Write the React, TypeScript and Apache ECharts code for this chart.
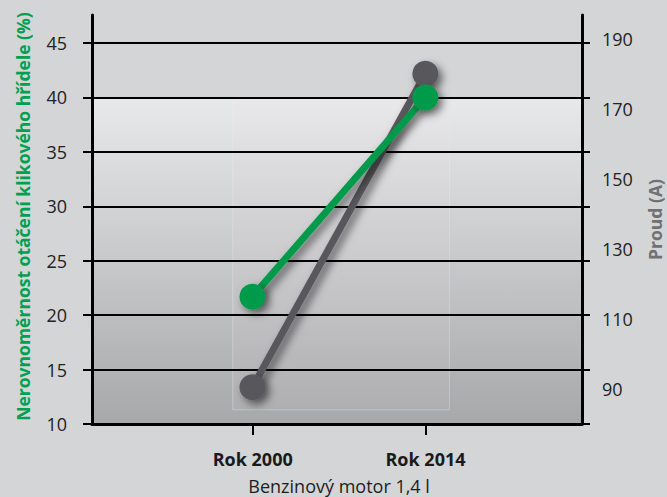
import React, { useEffect, useRef } from 'react';
import * as echarts from 'echarts';

// ---- data ----
const categories = ['Rok 2000', 'Rok 2014'];
const unevenness = [21.7, 40]; // Nerovnoměrnost (%), left axis
const current = [90.5, 180]; // Proud (A), right axis
const rightTicks = [90, 110, 130, 150, 170, 190];

const leftName = 'Nerovnoměrnost otáčení klikového hřídele (%)';
const rightName = 'Proud (A)';
const xName = 'Benzinový motor 1,4 l';

// ---- scale layout ----
const X_MIN = -0.928;
const X_MAX = 1.906;
const L_MIN = 10;
const L_MAX = 45;
const L_STEP = 5;
const R_MIN = 80;
const R_MAX = 196.76;
const R_STEP = 10;
const BAND_TOP = 40;

const GREEN = '#009a4c';
const GRAY = '#58595b';
const FONT = 'Open Sans';

export default function App() {
  const ref = useRef<HTMLDivElement>(null);

  useEffect(() => {
    if (!ref.current) return;
    const chart = echarts.init(ref.current, null, { renderer: 'svg' });
    const shadow = {
      shadowBlur: 8,
      shadowColor: 'rgba(0,0,0,0.55)',
      shadowOffsetX: 4,
      shadowOffsetY: 4,
    };
    const axisBlack = { color: '#000', width: 3 };
    const noLine = { show: false, onZero: false };
    const gridBox = { left: 92, right: 85, bottom: 73, containLabel: false, outerBoundsMode: 'none' };
    const option: any = {
      animation: false,
      backgroundColor: '#d4d5d7',
      textStyle: { fontFamily: FONT },
      grid: [
        { ...gridBox, top: 43 },
        { ...gridBox, top: 15 },
        // category band for the x ticks / labels (one band per category)
        { left: 166.3, right: 155.1, top: 43, bottom: 73, containLabel: false, outerBoundsMode: 'none' },
      ],
      xAxis: [
        {
          type: 'value',
          gridIndex: 0,
          min: X_MIN,
          max: X_MAX,
          axisLine: { show: true, onZero: false, lineStyle: axisBlack },
          axisTick: { show: false },
          axisLabel: { show: false },
          splitLine: { show: false },
        },
        {
          type: 'value',
          gridIndex: 1,
          min: X_MIN,
          max: X_MAX,
          axisLine: noLine,
          axisTick: { show: false },
          axisLabel: { show: false },
          splitLine: { show: false },
        },
        {
          type: 'category',
          gridIndex: 2,
          data: categories,
          boundaryGap: true,
          name: xName,
          nameLocation: 'middle',
          nameGap: 53,
          nameTextStyle: { fontSize: 18, color: '#1e1e1e', fontFamily: FONT },
          axisLine: noLine,
          axisTick: { show: true, alignWithLabel: true, length: 11, lineStyle: { color: '#000', width: 2 } },
          axisLabel: {
            fontSize: 18,
            fontWeight: 'bold',
            color: '#1a1a1a',
            fontFamily: FONT,
            margin: 26,
          },
          splitLine: { show: false },
        },
      ],
      yAxis: [
        {
          type: 'value',
          gridIndex: 0,
          position: 'left',
          z: 1,
          min: L_MIN,
          max: L_MAX,
          interval: L_STEP,
          axisLine: noLine,
          axisTick: { show: true, length: 9, lineStyle: { color: '#000', width: 2 } },
          axisLabel: {
            fontSize: 18,
            color: '#222',
            fontFamily: FONT,
            margin: 25,
            padding: [0, 0, 8, 0],
          },
          splitLine: {
            show: true,
            showMinLine: false,
            lineStyle: { color: '#000', width: 2 },
          },
        },
        {
          type: 'value',
          gridIndex: 0,
          position: 'right',
          z: 1,
          min: L_MIN,
          max: L_MAX,
          interval: L_STEP,
          axisLine: noLine,
          axisTick: { show: true, length: 8, lineStyle: { color: '#000', width: 2 } },
          axisLabel: { show: false },
          splitLine: { show: false },
        },
        {
          type: 'value',
          gridIndex: 1,
          position: 'left',
          z: 1,
          min: L_MIN,
          max: L_MAX,
          name: leftName,
          nameLocation: 'middle',
          nameRotate: 90,
          nameGap: 60,
          nameTextStyle: { color: '#00a050', fontWeight: 'bold', fontSize: 17.5, fontFamily: FONT, padding: [0, 0, 0, 6] },
          axisLine: { show: true, onZero: false, lineStyle: axisBlack },
          axisTick: { show: false },
          axisLabel: { show: false },
          splitLine: { show: false },
        },
        {
          type: 'value',
          gridIndex: 1,
          position: 'right',
          z: 1,
          min: R_MIN,
          max: R_MAX,
          interval: R_STEP,
          name: rightName,
          nameLocation: 'middle',
          nameRotate: 90,
          nameGap: 64,
          nameTextStyle: { color: '#707173', fontWeight: 'bold', fontSize: 17.5, fontFamily: FONT },
          axisLine: { show: true, onZero: false, lineStyle: axisBlack },
          axisTick: { show: false },
          axisLabel: {
            formatter: (v: number) => (rightTicks.indexOf(Math.round(v * 1000) / 1000) >= 0 ? String(v) : ''),
            fontSize: 18,
            color: '#222',
            fontFamily: FONT,
            margin: 20,
          },
          splitLine: { show: false },
        },
        {
          type: 'value',
          gridIndex: 2,
          show: false,
          axisLine: noLine,
          splitLine: { show: false },
        },
      ],
      series: [
        {
          type: 'line',
          xAxisIndex: 0,
          yAxisIndex: 0,
          data: [],
          z: -1,
          silent: true,
          markArea: {
            silent: true,
            z: -1,
            label: { show: false },
            data: [
              [
                {
                  yAxis: BAND_TOP,
                  itemStyle: {
                    color: new echarts.graphic.LinearGradient(0, 0, 0, 1, [
                      { offset: 0, color: '#e8e9ea' },
                      { offset: 1, color: '#a7a8aa' },
                    ]),
                  },
                },
                { yAxis: L_MIN },
              ],
              [
                {
                  xAxis: -0.114,
                  yAxis: BAND_TOP,
                  itemStyle: {
                    color: 'rgba(236,232,244,0.08)',
                    borderColor: 'rgba(242,242,246,0.35)',
                    borderWidth: 1,
                  },
                },
                { xAxis: 1.139, yAxis: 11.3 },
              ],
            ],
          },
        },
        {
          name: rightName,
          type: 'line',
          xAxisIndex: 1,
          yAxisIndex: 3,
          data: categories.map((_, i) => [i, current[i]]),
          symbol: 'circle',
          symbolSize: 26,
          z: 2,
          lineStyle: { color: GRAY, width: 7, ...shadow },
          itemStyle: { color: GRAY, ...shadow },
        },
        {
          name: leftName,
          type: 'line',
          xAxisIndex: 0,
          yAxisIndex: 0,
          data: categories.map((_, i) => [i, unevenness[i]]),
          symbol: 'circle',
          symbolSize: 26,
          z: 3,
          lineStyle: { color: GREEN, width: 7, ...shadow },
          itemStyle: { color: GREEN, ...shadow },
        },
      ],
    };
    chart.setOption(option);
    return () => chart.dispose();
  }, []);

  return (
    <div
      ref={ref}
      style={{ position: 'fixed', left: 0, top: 0, width: 667, height: 497 }}
    />
  );
}
